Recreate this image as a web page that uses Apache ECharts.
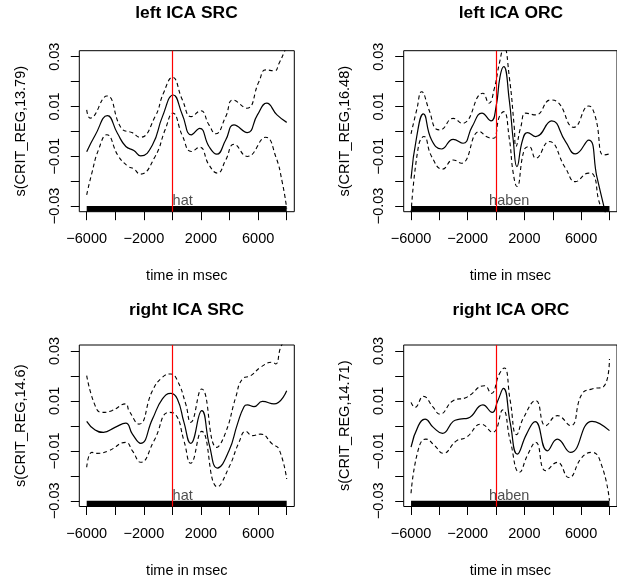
<!DOCTYPE html>
<html><head><meta charset="utf-8">
<script src="https://cdn.jsdelivr.net/npm/echarts@6/dist/echarts.min.js"></script>
<style>html,body{margin:0;padding:0;background:#fff}#c{width:617px;height:579px}</style>
</head><body><div id="c"></div>
<script>
// ---- data ----
const titles = ['left ICA SRC', 'left ICA ORC', 'right ICA SRC', 'right ICA ORC'];
const yNames = ['s(CRIT_REG,13.79)', 's(CRIT_REG,16.48)', 's(CRIT_REG,14.6)', 's(CRIT_REG,14.71)'];
const xName = 'time in msec';
const words = ['hat', 'haben', 'hat', 'haben'];
const wordX = [720, 930, 720, 930];
const wordY = -0.030;
const onsetX = 0;
const rugX = [-6000, 8000];
const rugTop = -0.0300;
const xTicks = [-6000, -4000, -2000, 0, 2000, 4000, 6000, 8000];
const xLabels = [-6000, -2000, 2000, 6000];
const yTicks = [-0.03, -0.02, -0.01, 0, 0.01, 0.02, 0.03];
const yLabels = [-0.03, -0.01, 0.01, 0.03];

const fit1 = [[-6000,-0.0082],[-5400,-0.0015],[-4550,0.0063],[-3850,-0.0008],[-3260,-0.0061],[-2700,-0.0077],[-2220,-0.0099],[-1400,-0.0055],[-700,0.0059],[60,0.0146],[700,0.0066],[1320,-0.0014],[1910,0.0012],[2560,-0.0061],[3100,-0.0092],[3730,-0.0035],[4310,0.0026],[5240,-0.0005],[5950,0.0066],[6600,0.0113],[7320,0.0066],[8000,0.0036]];
const up1 = [[-6000,0.0086],[-5757,0.0053],[-4590,0.0142],[-3540,0.0010],[-2840,-0.0005],[-2260,-0.0024],[-1210,0.0059],[-630,0.0153],[0,0.0217],[700,0.0126],[1320,0.0059],[1980,0.0083],[2560,0.0026],[3030,-0.0010],[3730,0.0059],[4240,0.0126],[5200,0.0093],[6060,0.0200],[6530,0.0247],[7150,0.0243],[7460,0.0273],[7810,0.0316],[8000,0.0345]];
const lo1 = [[-6000,-0.0255],[-5640,-0.0168],[-5180,-0.0075],[-4590,-0.0014],[-3770,-0.0101],[-3070,-0.0142],[-2720,-0.0150],[-2260,-0.0172],[-1210,-0.0101],[-510,0.0006],[30,0.0073],[700,-0.0018],[1320,-0.0081],[1910,-0.0064],[2560,-0.0135],[3150,-0.0168],[3730,-0.0115],[4310,-0.0052],[5240,-0.0101],[6530,-0.0024],[7230,-0.0101],[7700,-0.0208],[8000,-0.0310]];

const fit2 = [[-6000,-0.0190],[-5600,-0.0021],[-5130,0.0070],[-4550,-0.0035],[-3850,-0.0071],[-3030,-0.0032],[-2330,-0.0048],[-1690,0.0019],[-1000,0.0073],[-350,0.0042],[0,0.0099],[280,0.0220],[540,0.0260],[930,0.0126],[1210,-0.0035],[1470,-0.0142],[1870,-0.0035],[2220,-0.0005],[2800,-0.0021],[3920,0.0042],[4900,-0.0041],[5600,-0.0091],[6530,-0.0035],[7110,-0.0182],[7580,-0.0296],[8000,-0.0400]];
const up2 = [[-6000,-0.0010],[-5600,0.0086],[-5250,0.0159],[-4730,0.0086],[-4200,0.0008],[-3960,0.0006],[-3030,0.0052],[-2380,0.0032],[-930,0.0153],[-510,0.0113],[-120,0.0173],[230,0.0273],[560,0.0340],[930,0.0220],[1280,0.0019],[1400,-0.0061],[1750,0.0019],[2100,0.0073],[2800,0.0066],[3850,0.0126],[4320,0.0119],[5490,0.0016],[6530,0.0102],[7000,0.0059],[7580,-0.0095],[8000,-0.0091]];
const lo2 = [[-6000,-0.0330],[-5480,-0.0061],[-5090,-0.0021],[-4550,-0.0101],[-3780,-0.0152],[-3030,-0.0115],[-2450,-0.0128],[-1170,-0.0001],[-580,-0.0024],[-185,-0.0028],[230,0.0059],[540,0.0079],[930,-0.0028],[1210,-0.0168],[1470,-0.0222],[1980,-0.0075],[2330,-0.0061],[2800,-0.0108],[3730,-0.0041],[4900,-0.0148],[5600,-0.0202],[6530,-0.0168],[6880,-0.0175],[7230,-0.0275],[7460,-0.0316],[8000,-0.0450]];

const fit3 = [[-6000,0.0018],[-5410,-0.0017],[-4830,-0.0026],[-4020,-0.0006],[-3270,0.0011],[-2800,-0.0033],[-2220,-0.0070],[-1400,0.0027],[-700,0.0108],[-120,0.0130],[345,0.0108],[810,0.0014],[1280,-0.0070],[2050,0.0061],[2600,-0.0080],[3150,-0.0169],[3960,-0.0100],[4550,0.0007],[5010,0.0077],[5240,0.0084],[5710,0.0077],[6300,0.0098],[7110,0.0088],[8000,0.0141]];
const up3 = [[-6000,0.0201],[-5410,0.0081],[-4940,0.0054],[-4240,0.0061],[-3270,0.0088],[-3040,0.0061],[-2340,0.0007],[-1400,0.0141],[-700,0.0195],[-120,0.0208],[345,0.0182],[930,0.0088],[1280,0.0014],[2050,0.0148],[3100,-0.0086],[3730,-0.0026],[4430,0.0114],[4900,0.0188],[5480,0.0201],[6180,0.0235],[7000,0.0255],[7230,0.0248],[7580,0.0315],[8000,0.0360]];
const lo3 = [[-6000,-0.0166],[-5640,-0.0106],[-5290,-0.0110],[-4470,-0.0100],[-3270,-0.0066],[-2800,-0.0100],[-2220,-0.0146],[-1290,-0.0060],[-240,0.0054],[230,0.0045],[810,-0.0060],[1280,-0.0150],[2050,-0.0022],[3150,-0.0244],[3960,-0.0166],[4660,-0.0066],[5130,-0.0022],[5590,-0.0039],[6180,-0.0033],[7000,-0.0073],[7460,-0.0093],[8000,-0.0213]];

const fit4 = [[-6000,-0.0085],[-5480,0.0001],[-5010,0.0027],[-4430,-0.0006],[-3780,-0.0030],[-3030,0.0018],[-2560,0.0027],[-1980,0.0031],[-930,0.0084],[-280,0.0054],[120,0.0101],[520,0.0150],[1000,0.0011],[1500,-0.0113],[2150,-0.0033],[2760,0.0017],[3620,-0.0100],[4320,-0.0053],[5250,-0.0106],[6770,0.0018],[8000,-0.0019]];
const up4 = [[-6000,0.0094],[-5720,0.0074],[-5130,0.0118],[-4430,0.0074],[-3970,0.0047],[-3030,0.0101],[-2100,0.0114],[-820,0.0161],[-350,0.0130],[230,0.0208],[580,0.0232],[1000,0.0100],[1450,-0.0035],[1950,0.0034],[2800,0.0101],[3500,0.0001],[4320,0.0041],[5250,0.0001],[6060,0.0128],[6770,0.0148],[7580,0.0157],[8000,0.0268]];
const lo4 = [[-6000,-0.0270],[-5480,-0.0093],[-4950,-0.0053],[-4320,-0.0080],[-3740,-0.0110],[-2800,-0.0060],[-2100,-0.0046],[-1050,0.0007],[-235,-0.0026],[470,0.0064],[1000,-0.0060],[1650,-0.0186],[2250,-0.0113],[2800,-0.0066],[3500,-0.0180],[4320,-0.0146],[5130,-0.0207],[6060,-0.0126],[6770,-0.0106],[7460,-0.0160],[8000,-0.0300]];

const fits = [fit1, fit2, fit3, fit4];
const ups = [up1, up2, up3, up4];
const los = [lo1, lo2, lo3, lo4];

// ---- layout ----
const FONT = 'Liberation Sans, Arial, Helvetica, sans-serif';
const FS = 14.5;
const X_MIN = -6518, X_MAX = 8532;
const Y_MIN = -0.0323, Y_MAX = 0.0324;
const grids = [
  {left: 79.3, top: 50.7, width: 215, height: 161},
  {left: 403.7, top: 50.7, width: 215, height: 161},
  {left: 79.3, top: 345, width: 215, height: 161.7},
  {left: 403.7, top: 345, width: 215, height: 161.7}
];
const titleY = [13.5, 13.5, 309.8, 309.8];
const minus = s => String(s).replace('-', '\u2212');

const chart = echarts.init(document.getElementById('c'), null, {renderer: 'canvas'});
const xAxes = [], yAxes = [], series = [], graphics = [];
grids.forEach((g, i) => {
  xAxes.push({
    gridIndex: i, type: 'value', min: X_MIN, max: X_MAX, position: 'bottom',
    axisLine: {show: false, onZero: false},
    axisTick: {show: true, length: 8.5, customValues: xTicks, lineStyle: {color: '#000', width: 1}},
    axisLabel: {customValues: xLabels, fontFamily: FONT, fontSize: FS, color: '#000', margin: 19.5,
      formatter: v => minus(v)},
    splitLine: {show: false},
    name: xName, nameLocation: 'middle', nameGap: 56.5,
    nameTextStyle: {fontFamily: FONT, fontSize: FS, color: '#000'}
  });
  yAxes.push({
    gridIndex: i, type: 'value', min: Y_MIN, max: Y_MAX, position: 'left',
    axisLine: {show: false, onZero: false},
    axisTick: {show: true, length: 8.5, customValues: yTicks, lineStyle: {color: '#000', width: 1}},
    axisLabel: {customValues: yLabels, rotate: 90, fontFamily: FONT, fontSize: FS, color: '#000', margin: 17,
      formatter: v => minus(Number(v).toFixed(2))},
    splitLine: {show: false},
    name: yNames[i], nameLocation: 'middle', nameGap: 51,
    nameTextStyle: {fontFamily: FONT, fontSize: FS, color: '#000'}
  });
  series.push({
    type: 'line', xAxisIndex: i, yAxisIndex: i, data: fits[i], smooth: 0.5,
    symbol: 'none', lineStyle: {color: '#000', width: 1.2, type: 'solid'}, z: 3,
    markArea: {silent: true, itemStyle: {color: '#000', borderWidth: 0},
      data: [[{coord: [rugX[0], Y_MIN]}, {coord: [rugX[1], rugTop]}]]}
  });
  series.push({
    type: 'line', xAxisIndex: i, yAxisIndex: i, data: ups[i], smooth: 0.5,
    symbol: 'none', lineStyle: {color: '#000', width: 1.1, type: [4, 3]}, z: 3
  });
  series.push({
    type: 'line', xAxisIndex: i, yAxisIndex: i, data: los[i], smooth: 0.5,
    symbol: 'none', lineStyle: {color: '#000', width: 1.1, type: [4, 3]}, z: 3,
    markLine: {silent: true, symbol: ['none', 'none'], label: {show: false},
      lineStyle: {color: '#ff0000', width: 1.2, type: 'solid'}, data: [{xAxis: onsetX}]}
  });
  series.push({
    type: 'scatter', xAxisIndex: i, yAxisIndex: i, symbolSize: 1, z: 4,
    itemStyle: {color: 'rgba(0,0,0,0)'},
    data: [{value: [wordX[i], wordY], name: words[i]}],
    label: {show: true, position: 'top', distance: -3, formatter: p => p.name,
      fontFamily: FONT, fontSize: FS, color: '#222'}
  });
  graphics.push({
    type: 'text', x: g.left + g.width / 2 - 0.3, y: titleY[i],
    style: {text: titles[i], fontFamily: FONT, fontSize: 17.4, fontWeight: 'bold', fill: '#000',
      textAlign: 'center', textVerticalAlign: 'middle'}
  });
});

chart.setOption({
  animation: false,
  backgroundColor: '#fff',
  grid: grids.map(g => Object.assign({show: true, borderColor: '#000', borderWidth: 1, backgroundColor: 'transparent', containLabel: false}, g)),
  xAxis: xAxes,
  yAxis: yAxes,
  series: series,
  graphic: graphics
});
</script></body></html>
